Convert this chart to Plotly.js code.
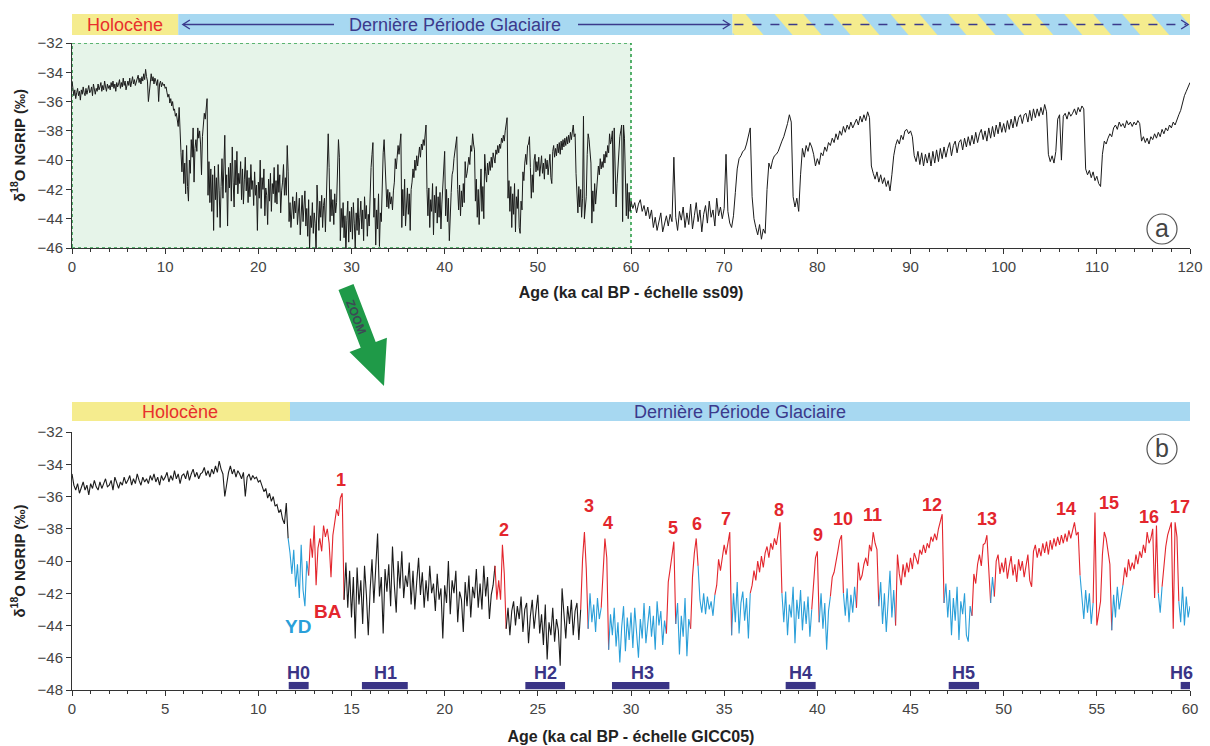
<!DOCTYPE html>
<html><head><meta charset="utf-8">
<script src="https://cdn.plot.ly/plotly-3.0.1.min.js"></script>
<style>body{margin:0;background:#fff}#chart{width:1210px;height:746px}</style>
</head><body><div id="chart"></div>
<script>
// ---------------- DATA ----------------
// NGRIP d18O, 0–60 ka (GICC05), one value every 0.1 ka
const AGE_STEP_B = 0.1;
const d18O_0_60 = [
-34.6,-35.3,-35.6,-35.2,-35.8,-35.4,-35.1,-35.6,-35.3,-35.9,
-35.2,-35.5,-35.0,-35.4,-35.6,-35.1,-35.5,-35.2,-34.9,-35.4,
-35.3,-35.0,-35.6,-34.8,-35.2,-35.5,-35.1,-35.3,-34.8,-35.2,
-35.0,-34.7,-35.3,-34.9,-35.2,-34.6,-35.0,-35.3,-34.8,-35.1,
-34.9,-35.2,-34.7,-35.0,-34.6,-35.1,-34.8,-35.3,-34.7,-35.0,
-34.8,-34.5,-35.1,-34.7,-35.0,-34.4,-34.9,-34.6,-35.2,-34.7,
-34.6,-34.9,-34.4,-35.0,-34.6,-34.3,-34.8,-34.5,-34.9,-34.6,
-34.5,-34.2,-34.7,-34.4,-34.8,-34.3,-34.6,-34.1,-34.5,-33.8,
-34.3,-34.6,-36.0,-35.2,-34.5,-34.1,-34.6,-34.3,-34.8,-34.4,
-34.6,-34.9,-34.5,-36.0,-34.8,-34.6,-35.0,-34.7,-34.9,-34.8,
-35.1,-35.0,-35.4,-35.7,-35.5,-36.1,-35.8,-36.3,-36.0,-36.6,
-36.5,-37.0,-36.8,-37.4,-37.7,-36.4,-38.6,-39.5,-40.8,-39.3,
-41.6,-40.2,-42.3,-39.0,-41.8,-42.8,-40.0,-40.9,-38.6,-39.8,
-37.8,-41.5,-39.2,-38.6,-39.4,-37.8,-38.5,-38.0,-38.9,-41.0,
-38.4,-37.6,-36.8,-37.2,-36.1,-35.8,-42.4,-40.1,-42.9,-40.6,
-43.5,-41.0,-44.8,-40.4,-42.7,-41.2,-43.9,-40.3,-42.1,-44.6,
-41.8,-39.9,-42.6,-40.8,-38.3,-42.2,-41.0,-44.5,-40.5,-41.9,
-40.2,-42.8,-39.1,-41.5,-43.2,-40.0,-41.7,-39.4,-42.3,-40.9,
-41.6,-40.1,-42.7,-40.6,-43.0,-41.3,-39.8,-42.1,-40.7,-42.9,
-41.2,-42.5,-40.3,-42.0,-41.4,-43.1,-40.8,-42.4,-41.7,-44.8,
-41.5,-42.6,-40.0,-43.3,-41.2,-42.0,-40.6,-43.8,-41.9,-42.4,
-44.4,-41.3,-42.8,-40.9,-43.5,-41.6,-42.3,-40.5,-42.9,-41.4,
-43.0,-40.3,-42.2,-41.0,-43.6,-42.1,-41.5,-40.3,-42.4,-41.2,
-42.4,-39.0,-40.8,-44.2,-42.9,-44.6,-43.1,-42.5,-44.0,-42.8,
-43.6,-42.2,-44.4,-43.0,-42.6,-45.1,-43.4,-42.4,-44.2,-43.1,
-42.1,-44.5,-43.3,-45.2,-42.7,-46.1,-43.8,-44.6,-42.9,-45.0,
-43.6,-44.3,-46.5,-41.7,-43.5,-44.8,-42.8,-43.9,-42.4,-44.6,
-43.1,-42.6,-44.9,-43.0,-39.9,-38.2,-40.5,-44.2,-42.0,-43.8,
-42.7,-44.4,-42.3,-43.6,-42.9,-40.3,-38.6,-39.8,-45.5,-43.3,
-44.6,-42.9,-45.3,-43.8,-46.3,-44.1,-42.8,-45.6,-43.5,-44.9,
-43.2,-45.4,-42.9,-44.3,-46.0,-43.6,-44.8,-42.6,-45.1,-43.9,
-42.8,-44.7,-43.4,-45.5,-42.5,-44.0,-43.1,-45.2,-43.7,-44.5,
-41.3,-40.5,-39.6,-38.8,-43.9,-42.6,-45.8,-43.4,-44.7,-42.3,
-45.9,-43.6,-44.2,-41.0,-39.5,-38.6,-40.3,-42.4,-43.2,-42.0,
-43.3,-42.2,-43.0,-42.5,-43.4,-42.1,-41.5,-39.9,-40.6,-39.8,
-39.0,-39.6,-38.8,-38.2,-44.6,-42.0,-43.8,-41.3,-44.5,-42.6,
-41.9,-43.7,-42.3,-44.8,-42.0,-41.5,-40.6,-41.2,-40.0,-40.7,
-39.7,-40.4,-39.5,-39.1,-39.8,-38.9,-39.3,-38.6,-39.0,-38.2,
-37.6,-42.0,-43.8,-41.9,-44.6,-42.7,-43.5,-41.6,-45.1,-42.4,
-43.6,-41.8,-44.3,-42.5,-43.9,-42.2,-44.7,-43.0,-41.5,-39.8,
-39.4,-43.8,-42.0,-44.2,-42.6,-45.5,-43.1,-42.2,-41.0,-40.7,
-39.9,-39.4,-38.7,-38.4,-42.0,-43.4,-41.7,-43.8,-42.1,-43.2,
-41.6,-42.9,-40.1,-41.2,-40.9,-40.2,-39.8,-40.3,-39.0,-39.4,
-38.2,-38.9,-39.3,-42.8,-41.3,-43.9,-42.0,-44.4,-42.6,-40.6,
-43.5,-41.8,-44.0,-39.6,-40.8,-41.5,-40.2,-41.0,-40.1,-40.7,
-39.8,-40.5,-39.5,-39.8,-40.2,-39.3,-39.6,-39.0,-39.5,-38.9,
-39.2,-38.5,-38.8,-38.3,-38.7,-38.0,-37.6,-37.1,-42.6,-41.4,
-43.5,-41.8,-44.6,-42.3,-43.7,-41.6,-44.9,-42.5,-43.3,-42.0,
-44.6,-45.0,-42.8,-43.4,-40.8,-41.4,-40.2,-39.6,-40.3,-39.0,
-38.9,-38.4,-40.5,-42.6,-41.0,-42.2,-40.0,-39.6,-40.8,-40.1,
-40.7,-39.8,-41.1,-40.3,-39.7,-40.9,-40.2,-41.3,-39.9,-40.6,
-40.0,-41.0,-40.4,-39.6,-41.2,-41.6,-39.4,-39.0,-39.8,-39.2,
-39.7,-38.9,-39.5,-38.8,-39.6,-38.7,-39.3,-38.6,-39.1,-38.5,
-39.0,-38.4,-38.9,-38.3,-38.8,-38.1,-38.6,-38.0,-37.6,-38.4,
-38.2,-40.9,-42.3,-43.6,-41.8,-43.2,-42.0,-43.9,-42.6,-37.0,
-44.0,-43.2,-42.5,-39.6,-38.2,-38.6,-39.5,-40.2,-44.3,-42.1,
-43.5,-41.6,-43.0,-42.2,-41.5,-40.4,-41.0,-39.9,-40.6,-40.1,
-40.5,-39.6,-40.2,-39.4,-39.8,-39.0,-39.5,-38.2,-38.9,-38.6,
-38.0,-42.3,-37.8,-42.0,-43.2,-41.6,-40.3,-39.1,-38.4,-38.0,
-37.6,-44.2,-37.6,-38.5,-42.5,-43.8,-41.6,-44.0,-42.2,-43.5,
-42.8
];

// NGRIP d18O, 60–120 ka (ss09), one value every 0.2 ka
const AGE_START_A = 60;
const AGE_STEP_A = 0.2;
const d18O_60_120 = [
-42.8,-43.3,-42.9,-43.6,-43.0,-42.7,-43.5,-43.1,-43.8,-43.2,
-44.0,-43.4,-44.6,-43.9,-44.8,-44.1,-43.6,-44.9,-44.3,-43.8,
-44.5,-43.7,-44.2,-39.8,-43.9,-44.8,-43.5,-44.1,-43.2,-44.6,
-43.6,-44.4,-43.0,-44.7,-43.8,-42.9,-44.2,-43.4,-44.9,-43.7,
-43.1,-44.3,-42.8,-43.9,-43.4,-44.5,-42.6,-43.8,-43.2,-44.0,
-43.3,-39.6,-43.5,-44.3,-44.6,-43.8,-42.2,-40.6,-39.9,-39.7,
-39.4,-39.3,-38.9,-38.4,-37.8,-42.5,-44.0,-44.6,-45.1,-44.4,
-45.4,-44.7,-45.0,-42.0,-40.2,-40.6,-40.0,-39.7,-39.6,-39.4,
-39.0,-38.7,-38.4,-38.0,-37.5,-36.9,-37.4,-42.5,-43.2,-42.6,
-43.5,-41.0,-39.2,-39.8,-39.0,-39.4,-38.8,-39.1,-39.6,-40.4,
-39.9,-40.3,-39.5,-39.7,-39.1,-39.4,-38.8,-39.0,-38.5,-38.8,
-38.2,-38.6,-38.0,-38.3,-37.7,-38.1,-37.6,-37.9,-37.4,-37.8,
-37.5,-37.2,-37.6,-37.0,-37.4,-36.9,-37.3,-36.7,-37.1,-40.4,
-40.9,-41.3,-40.8,-41.5,-41.0,-41.6,-41.2,-41.8,-41.4,-42.1,
-41.0,-39.7,-39.0,-38.6,-38.9,-38.3,-38.6,-38.0,-37.9,-38.2,
-38.0,-38.4,-39.7,-40.1,-39.4,-40.3,-39.5,-40.4,-39.6,-40.2,
-39.5,-40.4,-39.4,-40.2,-39.3,-40.1,-39.2,-39.9,-39.1,-39.8,
-39.2,-38.8,-39.7,-39.0,-38.7,-39.5,-38.8,-38.6,-39.3,-38.5,
-39.1,-38.4,-39.0,-38.3,-38.9,-38.1,-38.8,-38.2,-37.9,-38.6,
-38.0,-38.7,-37.8,-38.5,-37.7,-38.4,-37.6,-38.2,-37.4,-38.1,
-37.5,-38.1,-37.3,-37.9,-37.2,-37.8,-37.0,-37.7,-37.1,-36.9,
-37.5,-36.9,-36.8,-37.4,-36.6,-37.3,-36.5,-37.1,-36.5,-37.0,
-36.4,-36.9,-36.2,-36.7,-39.6,-40.1,-39.7,-40.2,-39.4,-37.2,
-36.9,-40.0,-37.0,-36.8,-37.2,-36.7,-37.0,-36.8,-36.5,-36.9,
-36.4,-36.7,-36.3,-36.5,-40.6,-41.0,-40.7,-41.2,-40.8,-41.4,
-41.1,-41.6,-41.8,-39.6,-38.7,-38.9,-38.5,-38.2,-38.4,-37.8,
-37.6,-37.9,-37.4,-37.7,-37.5,-37.8,-37.3,-37.6,-37.4,-37.7,
-37.4,-37.6,-37.3,-37.5,-38.7,-38.4,-38.8,-38.5,-38.9,-38.4,
-38.6,-38.2,-38.5,-38.1,-38.4,-37.9,-38.2,-37.8,-38.0,-37.6,
-37.8,-37.4,-37.6,-37.2,-36.9,-36.6,-36.0,-35.6,-35.3,-35.0,
-34.7
];

// Climatic phases of panel b (k = Holocene/LGM, b = stadial, r = interstadial)
const phaseStart = [0,11.6,12.7,14.6,22.7,23.3,27.3,27.7,28.4,28.8,31.9,32.4,33.2,33.6,34.5,35.4,36.4,38.1,39.7,40.1,40.7,41.4,42.1,43.3,44.2,46.8,48.3,49.3,49.5,54.1,54.8,55.8,56.4,58.3,58.5,59.4];
const phaseEnd   = [11.6,12.7,14.6,22.7,23.3,27.3,27.7,28.4,28.8,31.9,32.4,33.2,33.6,34.5,35.4,36.4,38.1,39.7,40.1,40.7,41.4,42.1,43.3,44.2,46.8,48.3,49.3,49.5,54.1,54.8,55.8,56.4,58.3,58.5,59.4,60];
const phaseType  = ['k','b','r','k','r','k','r','b','r','b','r','b','r','b','r','b','r','b','r','b','r','b','r','b','r','b','r','b','r','b','r','b','r','b','r','b'];

// Dansgaard–Oeschger event labels
const eventLabels = ['1','2','3','4','5','6','7','8','9','10','11','12','13','14','15','16','17'];
const eventLabelAge = [14.42,23.18,27.75,28.75,32.24,33.54,35.1,37.93,40.02,41.38,42.97,46.15,49.08,53.35,55.65,57.8,59.46];
const eventLabelD18O = [-34.98,-38.08,-36.59,-37.62,-37.93,-37.71,-37.4,-36.84,-38.39,-37.4,-37.15,-36.53,-37.4,-36.78,-36.4,-37.24,-36.68];

// Heinrich events
const heinrichNames = ['H0','H1','H2','H3','H4','H5','H6'];
const heinrichStart = [11.63,15.56,24.33,28.98,38.3,47.05,59.5];
const heinrichEnd   = [12.7,18.02,26.46,32.06,39.91,48.68,60];
const heinrichLabelAge = [12.17,16.83,25.42,30.6,39.1,47.87,59.57];

// Periods (bars)
const holoceneEndTop = 11.4, glacialEndTop = 70.9, recordEndTop = 120;
const holoceneEndBottom = 11.7, recordEndBottom = 60;

// ---------------- BUILD ----------------
const FONT = 'Liberation Sans, Arial, Helvetica, sans-serif';
const COL = {k:'#1b1b1b', b:'#2a9fd9', r:'#e3262d'};
const YEL = '#f5ec8e', BLU = '#a7d8f1', NAVY = '#3b3a8c', HNAVY = '#3a3486';

const ageB = d18O_0_60.map((v,i)=> +(i*AGE_STEP_B).toFixed(2));
const ageA = d18O_60_120.map((v,i)=> +(AGE_START_A + i*AGE_STEP_A).toFixed(2));

const traces = [];
traces.push({
  x: ageB.concat(ageA.slice(1)), y: d18O_0_60.concat(d18O_60_120.slice(1)),
  xaxis:'x', yaxis:'y', mode:'lines', line:{color:'#1b1b1b', width:1}, hoverinfo:'skip', showlegend:false
});
for (let p=0; p<phaseStart.length; p++){
  const i0 = Math.round(phaseStart[p]/AGE_STEP_B), i1 = Math.round(phaseEnd[p]/AGE_STEP_B);
  traces.push({
    x: ageB.slice(i0, i1+1), y: d18O_0_60.slice(i0, i1+1),
    xaxis:'x2', yaxis:'y2', mode:'lines', line:{color:COL[phaseType[p]], width:1.1}, hoverinfo:'skip', showlegend:false
  });
}

// layout geometry helpers (pixel -> paper)
const ML=72, MR=20, MT=43, MB=56, W=1210, H=746;
const PW=W-ML-MR, PH=H-MT-MB;
const px = v => (v-ML)/PW;
const py = v => (H-MB-v)/PH;
const KA_PER_PX_TOP = 120/PW;
const kaTop = p => (p-ML)*KA_PER_PX_TOP;

const shapes = [];
const annotations = [];
function txt(o){ return Object.assign({showarrow:false, xanchor:'center', yanchor:'middle'}, o); }

// green zoom rectangle
shapes.push({type:'rect', xref:'x', yref:'y', x0:0, x1:60, y0:-46, y1:-32, layer:'below',
  fillcolor:'rgba(214,236,218,0.6)', line:{color:'#2e9e4a', width:1.6, dash:'dot'}});

// top bar
const tT = py(14), tB = py(35), tM = py(24.5);
shapes.push({type:'rect', xref:'x', yref:'paper', x0:0, x1:holoceneEndTop, y0:tB, y1:tT, fillcolor:YEL, line:{width:0}});
shapes.push({type:'rect', xref:'x', yref:'paper', x0:holoceneEndTop, x1:glacialEndTop, y0:tB, y1:tT, fillcolor:BLU, line:{width:0}});
shapes.push({type:'rect', xref:'x', yref:'paper', x0:glacialEndTop, x1:recordEndTop, y0:tB, y1:tT, fillcolor:YEL, line:{width:0}});
// stripes
function clip(poly, xl, keepGreater){
  const out=[];
  for(let i=0;i<poly.length;i++){
    const a=poly[i], b=poly[(i+1)%poly.length];
    const ina = keepGreater ? a[0]>=xl : a[0]<=xl;
    const inb = keepGreater ? b[0]>=xl : b[0]<=xl;
    if(ina) out.push(a);
    if(ina!==inb){ const t=(xl-a[0])/(b[0]-a[0]); out.push([xl, a[1]+t*(b[1]-a[1])]); }
  }
  return out;
}
const per=6.22, sw=3.11, sl=1.93;
for(let a=72.3-per; a<recordEndTop; a+=per){
  let poly=[[a,tT],[a+sw,tT],[a+sw+sl,tB],[a+sl,tB]];
  poly=clip(poly, glacialEndTop, true); if(poly.length<3) continue;
  poly=clip(poly, recordEndTop, false); if(poly.length<3) continue;
  shapes.push({type:'path', xref:'x', yref:'paper', fillcolor:BLU, line:{width:0},
    path:'M'+poly.map(q=>q[0].toFixed(3)+','+q[1].toFixed(5)).join('L')+'Z'});
}
shapes.push({type:'line', xref:'x', yref:'paper', x0:11.95, x1:kaTop(334), y0:tM, y1:tM, line:{color:NAVY, width:1.3}});
shapes.push({type:'line', xref:'x', yref:'paper', x0:kaTop(578), x1:70.55, y0:tM, y1:tM, line:{color:NAVY, width:1.3}});
shapes.push({type:'line', xref:'x', yref:'paper', x0:71.1, x1:119.6, y0:tM, y1:tM, line:{color:NAVY, width:1.3, dash:'dash'}});
function chevron(xTip, dir){
  const dx = 7*KA_PER_PX_TOP*dir, dy = 4.5/PH;
  shapes.push({type:'path', xref:'x', yref:'paper', line:{color:NAVY, width:1.4},
    path:`M${(xTip+dx).toFixed(3)},${(tM+dy).toFixed(5)}L${xTip.toFixed(3)},${tM.toFixed(5)}L${(xTip+dx).toFixed(3)},${(tM-dy).toFixed(5)}`});
}
chevron(11.9, 1); chevron(70.6, -1); chevron(119.8, -1);
annotations.push(txt({xref:'x', yref:'paper', x:5.7, y:tM, text:'Holocène',
  font:{family:FONT, size:18, color:'#e8302c'}}));
annotations.push(txt({xref:'x', yref:'paper', x:41.1, y:tM, text:'Dernière Période Glaciaire',
  font:{family:FONT, size:18, color:NAVY}}));

// bottom bar
const bT = py(402), bB = py(421), bM = py(411.5);
shapes.push({type:'rect', xref:'x2', yref:'paper', x0:0, x1:holoceneEndBottom, y0:bB, y1:bT, fillcolor:YEL, line:{width:0}});
shapes.push({type:'rect', xref:'x2', yref:'paper', x0:holoceneEndBottom, x1:recordEndBottom, y0:bB, y1:bT, fillcolor:BLU, line:{width:0}});
annotations.push(txt({xref:'x2', yref:'paper', x:5.8, y:bM, text:'Holocène',
  font:{family:FONT, size:18, color:'#e8302c'}}));
annotations.push(txt({xref:'x2', yref:'paper', x:35.85, y:bM, text:'Dernière Période Glaciaire',
  font:{family:FONT, size:18, color:NAVY}}));

// Heinrich bars + labels
for(let i=0;i<heinrichNames.length;i++){
  shapes.push({type:'rect', xref:'x2', yref:'y2', x0:heinrichStart[i], x1:heinrichEnd[i], y0:-47.95, y1:-47.5,
    fillcolor:HNAVY, line:{width:0}});
  annotations.push(txt({xref:'x2', yref:'y2', x:heinrichLabelAge[i], y:-46.95, text:'<b>'+heinrichNames[i]+'</b>',
    font:{family:FONT, size:18, color:HNAVY}}));
}
// DO event labels
for(let i=0;i<eventLabels.length;i++){
  annotations.push(txt({xref:'x2', yref:'y2', x:eventLabelAge[i], y:eventLabelD18O[i], text:'<b>'+eventLabels[i]+'</b>',
    font:{family:FONT, size:18, color:'#e3262d'}}));
}
annotations.push(txt({xref:'x2', yref:'y2', x:12.13, y:-44.09, text:'<b>YD</b>', font:{family:FONT, size:19, color:'#2a9fd9'}}));
annotations.push(txt({xref:'x2', yref:'y2', x:13.72, y:-43.16, text:'<b>BA</b>', font:{family:FONT, size:19, color:'#e3262d'}}));

// circled panel letters
[[1162,229,'a'],[1162,449,'b']].forEach(c=>{
  shapes.push({type:'circle', xref:'paper', yref:'paper', xsizemode:'pixel', ysizemode:'pixel',
    xanchor:px(c[0]), yanchor:py(c[1]), x0:-15, x1:15, y0:-15, y1:15, fillcolor:'#ffffff', line:{color:'#555', width:1.2}});
  annotations.push(txt({xref:'paper', yref:'paper', x:px(c[0]), y:py(c[1]-1), text:c[2],
    font:{family:FONT, size:25, color:'#444'}}));
});

// green ZOOM arrow
const arrowPts = [[338.5,289.9],[353.5,284.1],[375.7,342.0],[386.9,337.7],[384,386],[349.5,352.1],[360.7,347.8]];
shapes.push({type:'path', xref:'paper', yref:'paper', fillcolor:'#1f9a48', line:{width:0},
  path:'M'+arrowPts.map(q=>px(q[0]).toFixed(5)+','+py(q[1]).toFixed(5)).join('L')+'Z'});
annotations.push(txt({xref:'paper', yref:'paper', x:px(356), y:py(317), text:'<b>ZOOM</b>', textangle:69,
  font:{family:FONT, size:12, color:'#3c4a55'}}));

const axCommon = {showline:true, linecolor:'#333', linewidth:1, ticks:'outside', ticklen:5, tickwidth:1, tickcolor:'#333',
  showgrid:false, zeroline:false, tickfont:{family:FONT, size:15, color:'#444'}};

const layout = {
  width:W, height:H, margin:{l:ML, r:MR, t:MT, b:MB},
  paper_bgcolor:'#fff', plot_bgcolor:'rgba(0,0,0,0)', showlegend:false,
  font:{family:FONT},
  xaxis: Object.assign({}, axCommon, {domain:[0,1], anchor:'y', range:[0,120], tickmode:'linear', tick0:0, dtick:10,
    minor:{dtick:2, ticks:'outside', ticklen:3, tickcolor:'#333', showgrid:false},
    title:{text:'<b>Age (ka cal BP - échelle ss09)</b>', font:{family:FONT, size:16, color:'#222'}, standoff:12}}),
  yaxis: Object.assign({}, axCommon, {domain:[py(248),1], anchor:'x', range:[-46,-32], tickmode:'linear', tick0:-46, dtick:2,
    title:{text:'<b>δ<sup>18</sup>O NGRIP (‰)</b>', font:{family:FONT, size:15, color:'#222'}, standoff:8}}),
  xaxis2: Object.assign({}, axCommon, {domain:[0,1], anchor:'y2', range:[0,60], tickmode:'linear', tick0:0, dtick:5,
    minor:{dtick:1, ticks:'outside', ticklen:3, tickcolor:'#333', showgrid:false},
    title:{text:'<b>Age (ka cal BP - échelle GICC05)</b>', font:{family:FONT, size:16, color:'#222'}, standoff:14}}),
  yaxis2: Object.assign({}, axCommon, {domain:[0,py(432)], anchor:'x2', range:[-48,-32], tickmode:'linear', tick0:-48, dtick:2,
    title:{text:'<b>δ<sup>18</sup>O NGRIP (‰)</b>', font:{family:FONT, size:15, color:'#222'}, standoff:8}}),
  shapes: shapes,
  annotations: annotations
};

Plotly.newPlot('chart', traces, layout, {staticPlot:true, displayModeBar:false});
</script>
</body></html>
